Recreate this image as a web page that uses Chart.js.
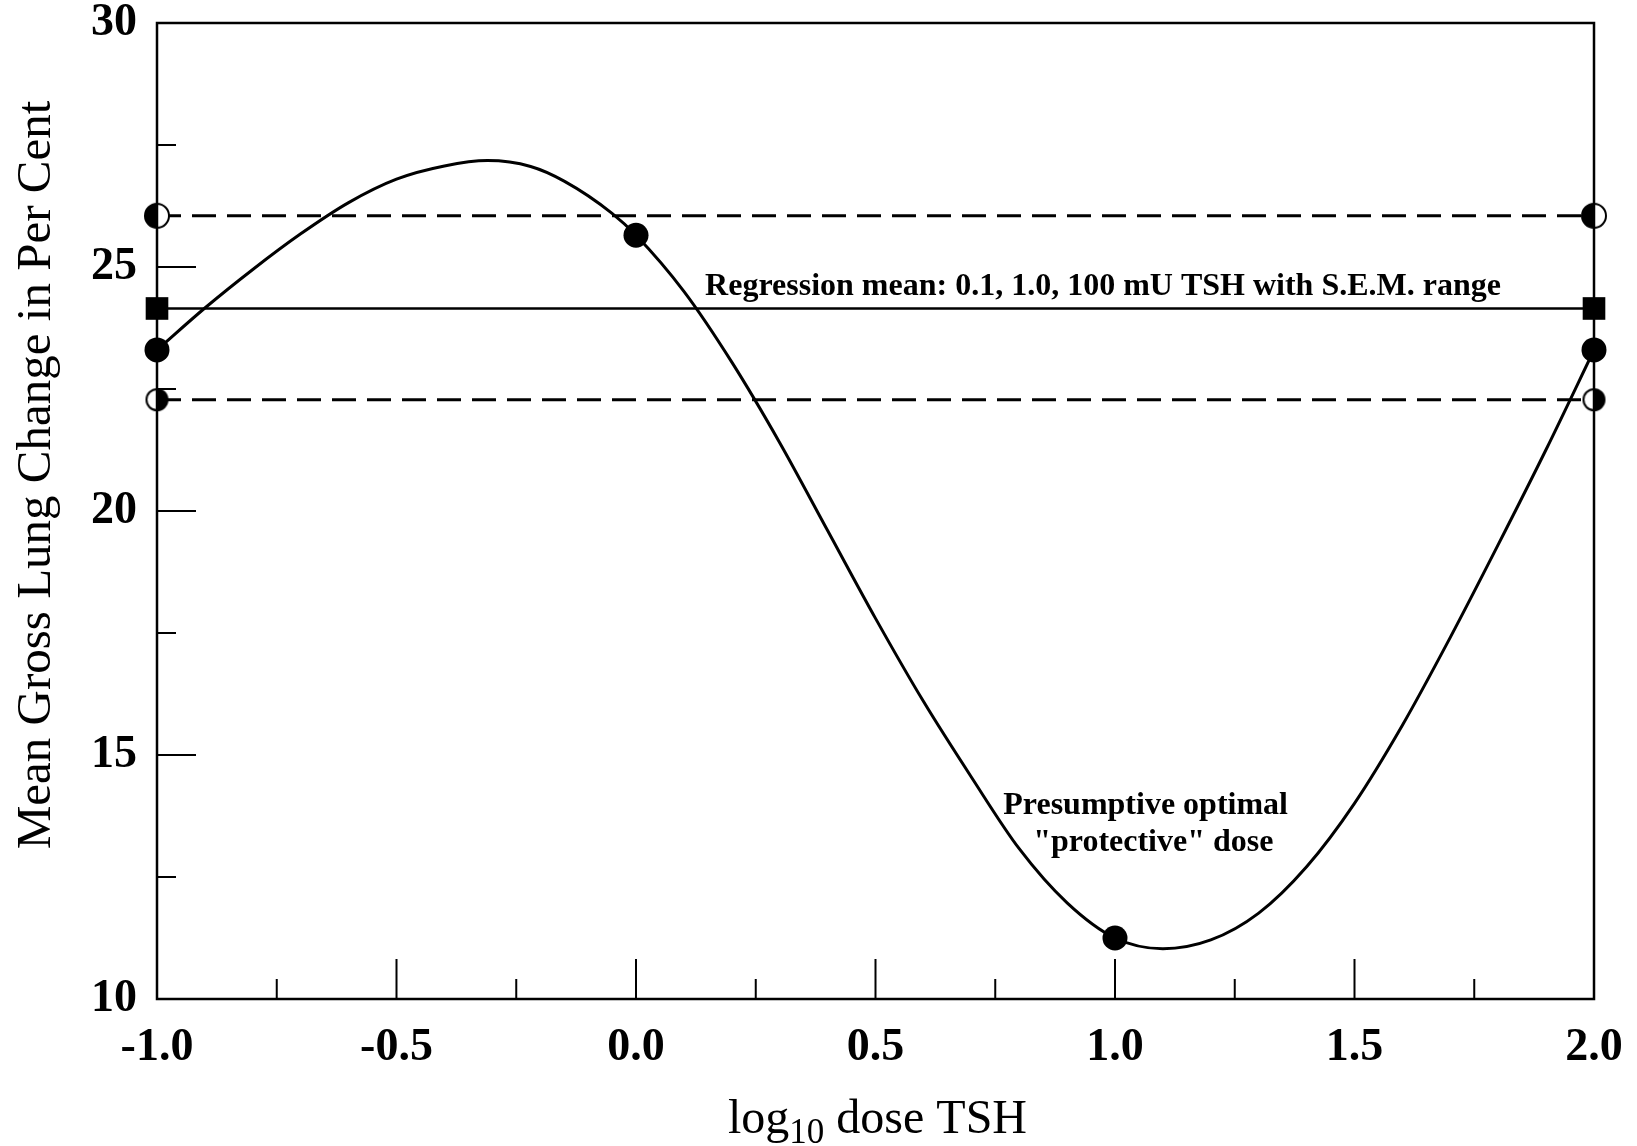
<!DOCTYPE html>
<html lang="en">
<head>
  <meta charset="UTF-8">
  <title>Gross lung change vs log dose TSH</title>
  <style>
    html, body { margin: 0; padding: 0; background: #fff; }
    canvas { display: block; }
  </style>
</head>
<body>
  <canvas id="lungChart" width="1637" height="1146"></canvas>

  <script src="https://cdn.jsdelivr.net/npm/chart.js"></script>
  <script>
    // tick positions
    const xTicks = [-1.0, -0.5, 0.0, 0.5, 1.0, 1.5, 2.0];
    const xMinorTicks = [-0.75, -0.25, 0.25, 0.75, 1.25, 1.75];
    const yTicks = [10, 15, 20, 25, 30];
    const yMinorTicks = [12.5, 17.5, 22.5, 27.5];

    // fitted curve
    const curveX = [-1.0, -0.9, -0.8, -0.7, -0.6, -0.5, -0.4, -0.31, -0.22, -0.15, -0.05, 0.0,
                    0.1, 0.2, 0.3, 0.4, 0.5, 0.6, 0.7, 0.8, 0.9, 1.0,
                    1.1, 1.2, 1.3, 1.4, 1.5, 1.6, 1.7, 1.8, 1.9, 2.0];
    const curveY = [23.3, 24.16, 24.95, 25.68, 26.32, 26.8, 27.07, 27.18, 27.06, 26.76, 26.1, 25.65,
                    24.5, 23.05, 21.4, 19.6, 17.8, 16.1, 14.55, 13.08, 11.97, 11.25,
                    11.03, 11.21, 11.76, 12.71, 14.01, 15.61, 17.41, 19.31, 21.26, 23.3];

    // observed dose means
    const doseX = [-1.0, 0.0, 1.0, 2.0];
    const doseY = [23.3, 25.65, 11.25, 23.3];

    // regression mean with S.E.M. range
    const meanX = [-1.0, 2.0];
    const meanY = [24.15, 24.15];
    const semUpperY = [26.05, 26.05];
    const semLowerY = [22.28, 22.28];

    const serif = "'Liberation Serif', 'Times New Roman', serif";

    function halfCircle(r, leftBlack) {
      const c = document.createElement('canvas');
      const s = Math.ceil(2 * r + 4);
      c.width = c.height = s;
      const g = c.getContext('2d');
      const m = s / 2;
      g.beginPath();
      g.arc(m, m, r, 0, Math.PI * 2);
      g.fillStyle = '#fff';
      g.fill();
      g.beginPath();
      if (leftBlack) g.arc(m, m, r, Math.PI / 2, Math.PI * 1.5);
      else g.arc(m, m, r, -Math.PI / 2, Math.PI / 2);
      g.closePath();
      g.fillStyle = '#000';
      g.fill();
      g.beginPath();
      g.arc(m, m, r, 0, Math.PI * 2);
      g.lineWidth = 2;
      g.strokeStyle = '#000';
      g.stroke();
      return c;
    }

    const upperMarker = halfCircle(12, true);
    const lowerMarker = halfCircle(10.5, false);

    const pts = (xs, ys) => xs.map((x, i) => ({ x: x, y: ys[i] }));

    // inner ticks, frame, annotations and axis titles
    const decorations = {
      id: 'decorations',
      afterDatasetsDraw(chart) {
        const { ctx, chartArea: a, scales: { x, y } } = chart;
        ctx.save();
        ctx.strokeStyle = '#000';
        ctx.lineWidth = 2;
        ctx.beginPath();
        xTicks.forEach(v => { const px = x.getPixelForValue(v); ctx.moveTo(px, a.bottom); ctx.lineTo(px, a.bottom - 40); });
        xMinorTicks.forEach(v => { const px = x.getPixelForValue(v); ctx.moveTo(px, a.bottom); ctx.lineTo(px, a.bottom - 20); });
        yTicks.forEach(v => { const py = y.getPixelForValue(v); ctx.moveTo(a.left, py); ctx.lineTo(a.left + 39, py); });
        yMinorTicks.forEach(v => { const py = y.getPixelForValue(v); ctx.moveTo(a.left, py); ctx.lineTo(a.left + 19, py); });
        ctx.stroke();

        ctx.lineWidth = 2.5;
        ctx.strokeRect(a.left, a.top, a.right - a.left, a.bottom - a.top);

        // annotations
        ctx.fillStyle = '#000';
        ctx.textAlign = 'center';
        ctx.textBaseline = 'alphabetic';
        ctx.font = 'bold 32px ' + serif;
        ctx.fillText('Regression mean: 0.1, 1.0, 100 mU TSH with S.E.M. range',
                     x.getPixelForValue(0.975), y.getPixelForValue(24.42));
        ctx.fillText('Presumptive optimal', x.getPixelForValue(1.064), y.getPixelForValue(13.79));
        ctx.fillText('"protective" dose', x.getPixelForValue(1.08), y.getPixelForValue(13.04));

        // y axis title
        ctx.save();
        ctx.font = '49px ' + serif;
        ctx.translate(50, (a.top + a.bottom) / 2 - 36);
        ctx.rotate(-Math.PI / 2);
        ctx.fillText('Mean Gross Lung Change in Per Cent', 0, 0);
        ctx.restore();

        // x axis title with subscript
        const base = 1133;
        ctx.textAlign = 'left';
        ctx.font = '48px ' + serif;
        const w1 = ctx.measureText('log').width;
        const w3 = ctx.measureText(' dose TSH').width;
        ctx.font = '35px ' + serif;
        const w2 = ctx.measureText('10').width;
        let cx = (a.left + a.right) / 2 - (w1 + w2 + w3) / 2 + 2;
        ctx.font = '48px ' + serif;
        ctx.fillText('log', cx, base);
        cx += w1;
        ctx.font = '35px ' + serif;
        ctx.fillText('10', cx, base + 10);
        cx += w2;
        ctx.font = '48px ' + serif;
        ctx.fillText(' dose TSH', cx, base);
        ctx.restore();
      }
    };

    new Chart(document.getElementById('lungChart'), {
      type: 'scatter',
      data: {
        datasets: [
          {
            label: 'Dose means',
            data: pts(doseX, doseY),
            showLine: false,
            pointStyle: 'circle',
            pointRadius: 12.5,
            backgroundColor: '#000',
            borderColor: '#000',
            borderWidth: 0,
            clip: false,
            order: 0
          },
          {
            label: 'Regression mean',
            data: pts(meanX, meanY),
            showLine: true,
            borderColor: '#000',
            borderWidth: 2.5,
            pointStyle: 'rect',
            pointRadius: 16,
            backgroundColor: '#000',
            pointBorderWidth: 0,
            clip: false,
            order: 1
          },
          {
            label: 'S.E.M. upper',
            data: pts(meanX, semUpperY),
            showLine: true,
            borderColor: '#000',
            borderWidth: 3,
            borderDash: [24, 11],
            pointStyle: upperMarker,
            pointRadius: 12,
            clip: false,
            order: 2
          },
          {
            label: 'S.E.M. lower',
            data: pts(meanX, semLowerY),
            showLine: true,
            borderColor: '#000',
            borderWidth: 3,
            borderDash: [24, 11],
            pointStyle: lowerMarker,
            pointRadius: 10.5,
            clip: false,
            order: 2
          },
          {
            label: 'Fitted curve',
            data: pts(curveX, curveY),
            showLine: true,
            borderColor: '#000',
            borderWidth: 3,
            cubicInterpolationMode: 'monotone',
            pointRadius: 0,
            order: 3
          }
        ]
      },
      options: {
        responsive: false,
        animation: false,
        layout: { padding: { top: 23, right: 43, left: 0, bottom: 0 } },
        plugins: {
          legend: { display: false },
          tooltip: { enabled: false }
        },
        scales: {
          x: {
            type: 'linear',
            min: -1,
            max: 2,
            afterBuildTicks: s => { s.ticks = xTicks.map(v => ({ value: v })); },
            afterFit: s => { s.height = 147; s.paddingLeft = 0; s.paddingRight = 0; },
            grid: { display: false, drawTicks: false },
            border: { display: false },
            ticks: {
              color: '#000',
              padding: 22,
              maxRotation: 0,
              font: { family: serif, size: 46, weight: 'bold' },
              callback: v => v.toFixed(1)
            }
          },
          y: {
            type: 'linear',
            min: 10,
            max: 30,
            afterBuildTicks: s => { s.ticks = yTicks.map(v => ({ value: v })); },
            afterFit: s => { s.width = 157; s.paddingTop = 0; s.paddingBottom = 0; },
            grid: { display: false, drawTicks: false },
            border: { display: false },
            ticks: {
              color: '#000',
              padding: 20,
              font: { family: serif, size: 46, weight: 'bold' },
              callback: v => String(v)
            }
          }
        }
      },
      plugins: [decorations]
    });
  </script>
</body>
</html>
